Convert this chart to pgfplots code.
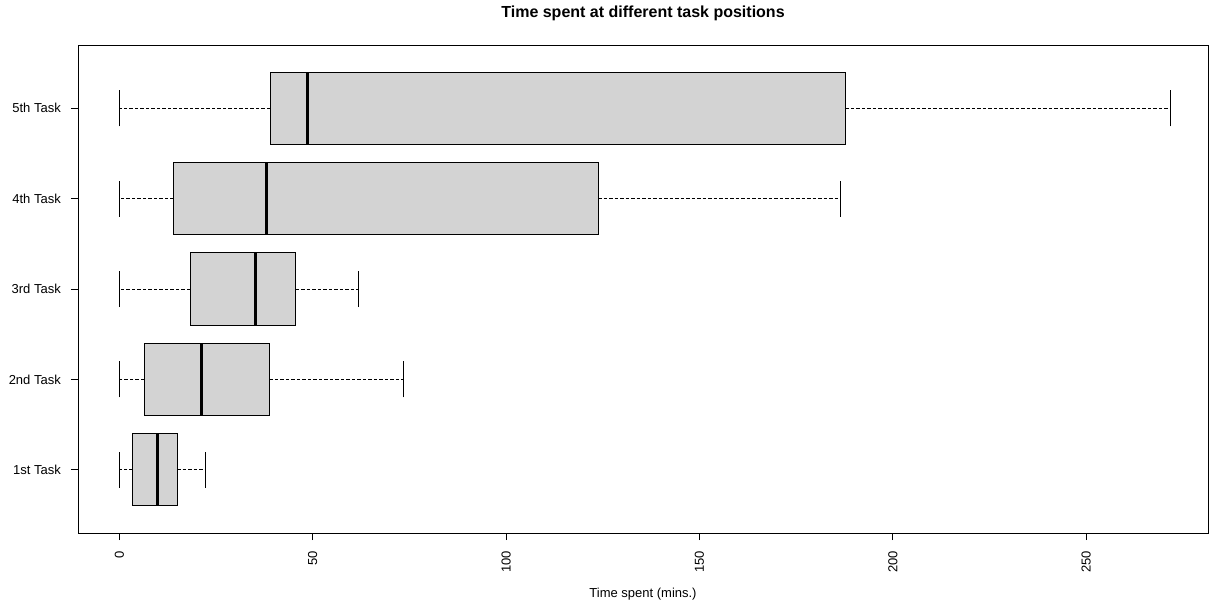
\documentclass[border=0pt]{standalone}
\usepackage{pgfplots}
\pgfplotsset{compat=1.18}
\usepgfplotslibrary{statistics}
\usepackage{fontspec}
\setmainfont{Liberation Sans}
\definecolor{boxgray}{RGB}{211,211,211}
\begin{document}
\begin{tikzpicture}
\useasboundingbox (0,0) rectangle (1224pt,603pt);
\begin{axis}[
  at={(78pt,70pt)}, anchor=south west,
  scale only axis, width=1130pt, height=488pt,
  xmin=-10.7, xmax=281.5, ymin=0.3, ymax=5.7,
  axis line style={black, line width=0.9pt},
  tick pos=left, tick align=outside, major tick length=7pt,
  tick style={black, line width=0.8pt},
  xtick={0,50,100,150,200,250},
  ytick={1,2,3,4,5},
  yticklabels={1st Task,2nd Task,3rd Task,4th Task,5th Task},
  /pgf/number format/assume math mode=true,
  tick label style={font=\fontsize{13}{15}\selectfont},
  xticklabel style={yshift=-11pt, rotate=90, anchor=east, inner sep=0pt},
  yticklabel style={anchor=east, inner sep=0pt, xshift=-10pt},
  title={Time spent at different task positions},
  title style={at={(axis description cs:0.5,1)}, anchor=base, yshift=21.5pt, font=\bfseries\fontsize{16}{19}\selectfont},
  xlabel={Time spent (mins.)},
  xlabel style={at={(axis description cs:0.5,0)}, anchor=base, yshift=-64pt, font=\fontsize{13}{15}\selectfont},
  boxplot/box extend=0.8,
  boxplot/whisker extend=0.4,
  boxplot/every box/.style={fill=boxgray, draw=black, line width=0.9pt},
  boxplot/every median/.style={draw=black, line width=3pt},
  boxplot/draw/lower whisker/.code={%
    \draw[black, line width=0.9pt, dash pattern=on 3.5pt off 2pt]
      (boxplot cs:\pgfplotsboxplotvalue{lower quartile}) -- (boxplot cs:\pgfplotsboxplotvalue{lower whisker});
    \draw[black, line width=0.9pt]
      (boxplot whisker cs:\pgfplotsboxplotvalue{lower whisker},0) -- (boxplot whisker cs:\pgfplotsboxplotvalue{lower whisker},1);
  },
  boxplot/draw/upper whisker/.code={%
    \draw[black, line width=0.9pt, dash pattern=on 3.5pt off 2pt]
      (boxplot cs:\pgfplotsboxplotvalue{upper quartile}) -- (boxplot cs:\pgfplotsboxplotvalue{upper whisker});
    \draw[black, line width=0.9pt]
      (boxplot whisker cs:\pgfplotsboxplotvalue{upper whisker},0) -- (boxplot whisker cs:\pgfplotsboxplotvalue{upper whisker},1);
  },
]
\addplot[black, boxplot prepared={draw position=1, lower whisker=0, lower quartile=3.5, median=9.8, upper quartile=14.9, upper whisker=22.2}] coordinates {};
\addplot[black, boxplot prepared={draw position=2, lower whisker=0, lower quartile=6.45, median=21.3, upper quartile=38.8, upper whisker=73.4}] coordinates {};
\addplot[black, boxplot prepared={draw position=3, lower whisker=0, lower quartile=18.3, median=35.3, upper quartile=45.6, upper whisker=61.7}] coordinates {};
\addplot[black, boxplot prepared={draw position=4, lower whisker=0, lower quartile=14.0, median=38.1, upper quartile=123.8, upper whisker=186.4}] coordinates {};
\addplot[black, boxplot prepared={draw position=5, lower whisker=0, lower quartile=39.0, median=48.6, upper quartile=187.7, upper whisker=271.8}] coordinates {};
\end{axis}
\end{tikzpicture}
\end{document}
